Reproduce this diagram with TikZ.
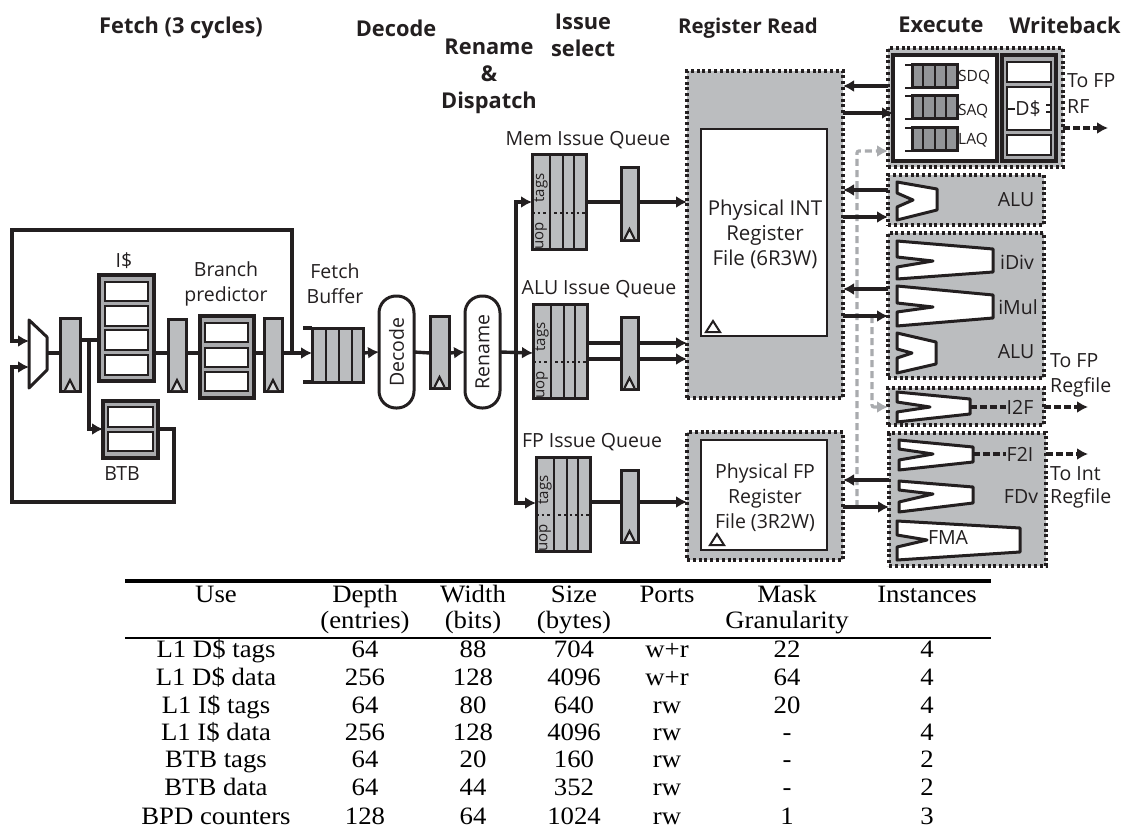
\documentclass[tikz,border=0pt]{standalone}
\usepackage{fontspec}
\setmainfont{Open Sans}
\newfontfamily\tablefont[FakeStretch=1.07]{Liberation Serif}
\usetikzlibrary{arrows.meta,calc}

\definecolor{ink}{HTML}{231F20}
\definecolor{panel}{HTML}{BBBDBF}
\definecolor{darkbar}{HTML}{939598}
\definecolor{greywire}{HTML}{A9ABAE}

\tikzset{
  >={Latex[length=11pt,width=12pt]},
  sz/.style 2 args={minimum width=#1pt,minimum height=#2pt},
  box/.style={anchor=north west,inner sep=0pt,outer sep=0pt},
  dotbox/.style={box,draw=ink,fill=panel,line width=3.2pt,dash pattern=on 3pt off 2.8pt},
  pipereg/.style={box,draw=ink,fill=panel,line width=3pt},
  cachebox/.style={box,draw=ink,fill=darkbar!80,line width=3.2pt},
  cell/.style={box,draw=ink,fill=white,line width=2pt},
  whitebox/.style={box,draw=ink,fill=white,line width=2pt},
  pill/.style={draw=ink,fill=white,line width=3pt,rounded corners=17pt,inner sep=0pt,outer sep=0pt,rotate=90,
    font=\fontsize{19.5}{22}\selectfont,text=ink},
  wire/.style={draw=ink,line width=3.4pt},
  bar/.style={draw=ink,line width=2.7pt},
  dashwire/.style={draw=ink,line width=3.2pt,dash pattern=on 7pt off 3pt},
  greydash/.style={draw=greywire,line width=3.2pt,dash pattern=on 7pt off 4pt,rounded corners=2pt},
  unit/.style={draw=ink,fill=white,line width=3pt,line join=round},
  hdr/.style={font=\fontsize{21.8}{27}\selectfont\bfseries,text=ink,align=center,inner sep=0pt},
  lbl/.style={font=\fontsize{19.5}{25}\selectfont,text=ink,align=center,inner sep=0pt},
  lbll/.style={lbl,anchor=west},
  tiny/.style={font=\fontsize{15}{16}\selectfont,text=ink,inner sep=0pt},
  tabtext/.style={font=\tablefont\fontsize{25}{27}\selectfont,anchor=base,inner sep=0pt},
}

\begin{document}
\begin{tikzpicture}[x=1pt,y=-1pt]
  \useasboundingbox (0,0) rectangle (1123,829);

  % =========================
  % stage headings
  % =========================
  \node[hdr] (hfetch) at (181,28) {Fetch (3 cycles)};
  \node[hdr] (hdecode) at (396,28) {Decode};
  \node[hdr] (hissue) at (583,35) {Issue\\select};
  \node[hdr] (hrename) at (489,76) {Rename\\\&\\Dispatch};
  \node[hdr,font=\fontsize{20.4}{27}\selectfont\bfseries] (hread) at (748,28) {Register Read};
  \node[hdr] (hexec) at (941,25) {Execute};
  \node[hdr] (hwrite) at (1065,25) {Writeback};

  % =========================
  % dotted panels
  % =========================
  \node[dotbox,sz={156}{327}] (intrf) at (687,71) {};
  \node[dotbox,sz={156}{128}] (fprf) at (687,432) {};
  \node[dotbox,sz={175}{119}] (memex) at (888,48) {};
  \node[dotbox,sz={156}{50}] (alubox) at (888,175) {};
  \node[dotbox,sz={156}{145}] (intbox) at (888,233) {};
  \node[dotbox,sz={156}{37}] (i2fbox) at (888,388) {};
  \node[dotbox,sz={157}{133}] (fpbox) at (889,433) {};

  % register files
  \node[whitebox,sz={126}{207}] (intin) at (701,129) {};
  \node[whitebox,sz={126}{110}] (fpin) at (701,440) {};
  \node[lbl,font=\fontsize{20.5}{25}\selectfont] (intname) at (765,234) {Physical INT\\Register\\File (6R3W)};
  \node[lbl] (fpname) at (765,498) {Physical FP\\Register\\File (3R2W)};
  \foreach \n/\dx/\dy in {intin/5/4, fpin/9/5}{
    \draw[wire,line width=2pt] ([shift={(\dx pt,\dy pt)}]\n.south west) -- ++(7,-11) -- ++(7,11) -- cycle;
  }

  % =========================
  % caches
  % =========================
  \node[cachebox,sz={55}{106}] (icache) at (99,275) {};
  \node[cachebox,sz={54}{82}] (bpred) at (200,316) {};
  \node[cachebox,sz={55}{57}] (btb) at (103,401) {};
  \node[cachebox,sz={54}{106}] (dcache) at (1002,55) {};
  \foreach \n/\x/\y/\w/\h in {ic1/105/282/43/19, ic2/105/306/43/20, ic3/105/330/43/20, ic4/105/355/43/20,
      bp1/205/323/43/19, bp2/205/348/43/19, bp3/205/372/43/19,
      bt1/108/407/45/20, bt2/108/432/45/19,
      dc1/1007/62/44/20, dc2/1007/87/44/43, dc3/1007/135/44/20}{
    \node[cell,sz={\w}{\h}] (\n) at (\x,\y) {};
  }
  \node[lbl] (ilabel) at (124,261) {I\$};
  \node[lbl] (bplabel) at (226,284) {Branch\\predictor};
  \node[lbl] (btblabel) at (122,474) {BTB};
  \node[lbl] (fblabel) at (335,284) {Fetch\\Buffer};

  % =========================
  % pipeline registers
  % =========================
  \foreach \n/\x/\y/\w/\h in {reg1/60/318/20/73, reg2/168/319/18/72, reg3/264/318/18/73, reg4/430/316/19/72,
      regmem/621/168/17/72, regalu/621/317/17/72, regfp/621/470/17/72}{
    \node[pipereg,sz={\w}{\h}] (\n) at (\x,\y) {};
    \draw[wire,line width=2.2pt,fill=panel!50] ([shift={(-5pt,1pt)}]\n.south) -- ([yshift=11pt]\n.south) -- ([shift={(5pt,1pt)}]\n.south);
  }

  % =========================
  % mux and pill stages
  % =========================
  \draw[unit,fill=white] (29,320) -- (47,337) -- (47,370) -- (29,388) -- cycle;
  \coordinate (muxa) at (29,341);
  \coordinate (muxb) at (29,367);
  \coordinate (muxout) at (47,353);
  \node[pill,sz={112}{35}] (decode) at (396.5,352) {Decode};
  \node[pill,sz={112}{35}] (rename) at (482.5,352) {Rename};

  % =========================
  % queues
  % =========================
  \node[pipereg,sz={51}{54}] (fetchq) at (312,328) {};
  \draw[wire] (fetchq.north west) -- ++(-9,0);
  \draw[wire] (fetchq.south west) -- ++(-9,0);
  \foreach \x in {14,27,40}{
    \draw[bar] ([xshift=\x pt]fetchq.north west) -- ([xshift=\x pt]fetchq.south west);
  }

  \foreach \n/\x/\y/\yd/\t in {memq/532/155/58/Mem, aluq/533/304/58/ALU, fpq/536/457/58/FP}{
    \node[pipereg,sz={54}{94}] (\n) at (\x,\y) {};
    \foreach \b in {18,31,42}{
      \draw[bar] ([xshift=\b pt]\n.north west) -- ([xshift=\b pt]\n.south west);
    }
    \draw[draw=ink,line width=2.6pt,dash pattern=on 2.6pt off 3pt] ([yshift=-\yd pt]\n.north west) -- ([yshift=-\yd pt]\n.north east);
    \node[tiny,rotate=90] (\n-tags) at ([shift={(9pt,-33pt)}]\n.north west) {tags};
    \node[tiny,rotate=90] (\n-uop) at ([shift={(9pt,13pt)}]\n.south west) {uop};
  }
  \node[lbl] (memname) at (588,140) {Mem Issue Queue};
  \node[lbl] (aluname) at (599,289) {ALU Issue Queue};
  \node[lbl] (fpname2) at (592,442) {FP Issue Queue};

  % =========================
  % memory unit
  % =========================
  \node[box,draw=ink,fill=white,line width=3.2pt,sz={104}{106}] (memin) at (893,55) {};
  \foreach \n/\y/\l/\ly in {sdq/65/SDQ/77, saq/96/SAQ/111, laq/128/LAQ/140}{
    \node[box,draw=ink,fill=darkbar,line width=3pt,sz={45}{23}] (\n) at (912,\y) {};
    \draw[bar] (\n.north west) -- ++(-7,0);
    \draw[bar] (\n.south west) -- ++(-7,0);
    \foreach \b in {11,23,34}{
      \draw[bar] ([xshift=\b pt]\n.north west) -- ([xshift=\b pt]\n.south west);
    }
    \node[font=\fontsize{15.5}{18}\selectfont,text=ink,inner sep=0pt,anchor=west] (\n-name) at (958,\ly) {\l};
  }
  \node[lbl] (dclabel) at (1028,109) {D\$};
  \draw[wire,line width=2pt] (dc2.west |- dclabel) -- (dclabel.west);
  \draw[wire,line width=2pt] (dc2.east |- 0,105) -- ++(-5,0);
  \draw[wire,line width=2pt] (dc2.east |- 0,112) -- ++(-5,0);

  % =========================
  % functional units
  % =========================
  % ALU
  \draw[unit] (897,182) -- (937,189) -- (937,210) -- (897,220) -- (897,207) -- (913,200) -- (897,193) -- cycle;
  % iDiv
  \draw[unit] (897,241) -- (993,249) -- (993,272) -- (897,279) -- (897,267) -- (933,261) -- (897,257) -- cycle;
  % iMul
  \draw[unit] (897,286) -- (993,295) -- (993,318) -- (897,326) -- (897,312) -- (933,307) -- (897,303) -- cycle;
  % ALU
  \draw[unit] (897,333) -- (936,342) -- (936,364) -- (897,373) -- (897,358) -- (912,353) -- (897,349) -- cycle;
  % I2F
  \draw[unit] (897,392) -- (970,399) -- (970,414) -- (897,422) -- (897,412) -- (930,407) -- (897,402) -- cycle;
  % F2I
  \draw[unit] (899,440) -- (973,447) -- (973,462) -- (899,470) -- (899,460) -- (933,454) -- (899,449) -- cycle;
  % FDv
  \draw[unit] (899,481) -- (973,487) -- (973,503) -- (899,512) -- (899,502) -- (933,494) -- (899,490) -- cycle;
  % FMA
  \draw[unit] (897,521) -- (1020,528) -- (1020,552) -- (897,560) -- (897,547) -- (927,540) -- (897,535) -- cycle;

  \node[lbl] (alu1) at (1016,200) {ALU};
  \node[lbl] (idiv) at (1017,262) {iDiv};
  \node[lbl] (imul) at (1018,307) {iMul};
  \node[lbl] (alu2) at (1016,352) {ALU};
  \node[lbl] (i2f) at (1020,407) {I2F};
  \node[lbl] (f2i) at (1020,454) {F2I};
  \node[lbl] (fdv) at (1021,497) {FDv};
  \node[lbl] (fma) at (948,538) {FMA};

  \node[lbll] (tofp1) at (1067,81) {To FP};
  \node[lbll] (torf) at (1067,107) {RF};
  \node[lbll] (tofp2) at (1050,361) {To FP};
  \node[lbll] (toreg1) at (1050,387) {Regfile};
  \node[lbll] (toint) at (1050,474) {To Int};
  \node[lbll] (toreg2) at (1050,498) {Regfile};

  % =========================
  % wires, front end
  % =========================
  \coordinate (ymain) at (0,353);
  \coordinate (yic) at (0,340);
  \coordinate (ybtb) at (0,429);
  \coordinate (tap) at (89,340);
  \coordinate (busx) at (292,353);
  \coordinate (fork) at (516,353);

  \draw[wire] (muxout) -- (reg1.west |- ymain);
  \draw[wire] (reg1.east |- yic) -- (icache.west |- yic);
  \draw[wire,->] (tap) -- (tap |- ybtb) -- (btb.west |- ybtb);
  \draw[wire] (icache.east |- ymain) -- (reg2.west |- ymain);
  \draw[wire] (reg2.east |- ymain) -- (bpred.west |- ymain);
  \draw[wire] (bpred.east |- ymain) -- (reg3.west |- ymain);
  \draw[wire,->] (reg3.east |- ymain) -- (fetchq.west |- ymain);
  \draw[wire,->] (busx) -- (292,230) -- (12,230) -- (12,341) -- (muxa);
  \draw[wire,->] (btb.east |- ybtb) -- (174,429) -- (174,502) -- (12,502) -- (12,367) -- (muxb);

  \draw[wire,->] (fetchq.east |- ymain) -- (decode.north);
  \draw[wire] (decode.south) -- (reg4.west |- ymain);
  \draw[wire,->] (reg4.east |- ymain) -- (rename.north);

  % =========================
  % wires, issue
  % =========================
  \draw[wire,->] (rename.south) -- (aluq.west |- ymain);
  \draw[wire,->] (fork) -- (516,202) -- (memq.west |- 0,202);
  \draw[wire,->] (fork) -- (516,503) -- (fpq.west |- 0,503);
  \foreach \q/\r/\f/\y in {memq/regmem/intrf/202, aluq/regalu/intrf/343, aluq/regalu/intrf/359, fpq/regfp/fprf/502}{
    \draw[wire] (\q.east |- 0,\y) -- (\r.west |- 0,\y);
    \draw[wire,->] (\r.east |- 0,\y) -- (\f.west |- 0,\y);
  }

  % =========================
  % wires, execute
  % =========================
  \draw[greydash,-{Latex[length=11pt,width=12pt]}] (857,507) -- (857,151) -- (memex.west |- 0,151);
  \draw[greydash,-{Latex[length=11pt,width=12pt]}] (872,316) -- (872,407) -- (i2fbox.west |- 0,407);

  \draw[wire,->] (memex.west |- 0,86) -- (intrf.east |- 0,86);
  \draw[wire,->] (intrf.east |- 0,113) -- (memin.west |- 0,113);
  \foreach \n/\f/\ya/\yb in {alubox/intrf/190/217, intbox/intrf/289/316, fpbox/fprf/480/507}{
    \draw[wire,->] (\n.west |- 0,\ya) -- (\f.east |- 0,\ya);
    \draw[wire,->] (\f.east |- 0,\yb) -- (\n.west |- 0,\yb);
  }

  \coordinate (fpout) at (1108,128);
  \coordinate (i2fout) at (970,407);
  \coordinate (i2fend) at (1088,407);
  \coordinate (f2iout) at (973,454);
  \coordinate (f2iend) at (1088,454);
  \draw[dashwire,->] (memex.east |- fpout) -- (fpout);
  \draw[dashwire] (i2fout) -- (i2f.west);
  \draw[dashwire,->] (i2fbox.east |- i2fend) -- (i2fend);
  \draw[dashwire] (f2iout) -- (f2i.west);
  \draw[dashwire,->] (fpbox.east |- f2iend) -- (f2iend);

  % =========================
  % table
  % =========================
  \draw[line width=4pt] (125,581) -- (991,581);
  \draw[line width=1.2pt] (125,638) -- (991,638);
  \foreach \cx/\a/\b [count=\c] in {216/Use/{}, 365/Depth/(entries), 473/Width/(bits), 574/Size/(bytes),
      667/Ports/{}, 787/Mask/Granularity, 927/Instances/{}}{
    \node[tabtext] (heada\c) at (\cx,602) {\a};
    \node[tabtext] (headb\c) at (\cx,628) {\b};
  }
  \foreach \ry/\a/\b/\d/\e/\f/\g/\h [count=\r] in {
      657/L1 D\$ tags/64/88/704/w+r/22/4,
      685/L1 D\$ data/256/128/4096/w+r/64/4,
      713/L1 I\$ tags/64/80/640/rw/20/4,
      740/L1 I\$ data/256/128/4096/rw/-/4,
      767/BTB tags/64/20/160/rw/-/2,
      795/BTB data/64/44/352/rw/-/2,
      824/BPD counters/128/64/1024/rw/1/3}{
    \node[tabtext] (use\r) at (216,\ry) {\a};
    \node[tabtext] (depth\r) at (365,\ry) {\b};
    \node[tabtext] (width\r) at (473,\ry) {\d};
    \node[tabtext] (size\r) at (574,\ry) {\e};
    \node[tabtext] (ports\r) at (667,\ry) {\f};
    \node[tabtext] (mask\r) at (787,\ry) {\g};
    \node[tabtext] (inst\r) at (927,\ry) {\h};
  }

\end{tikzpicture}
\end{document}
